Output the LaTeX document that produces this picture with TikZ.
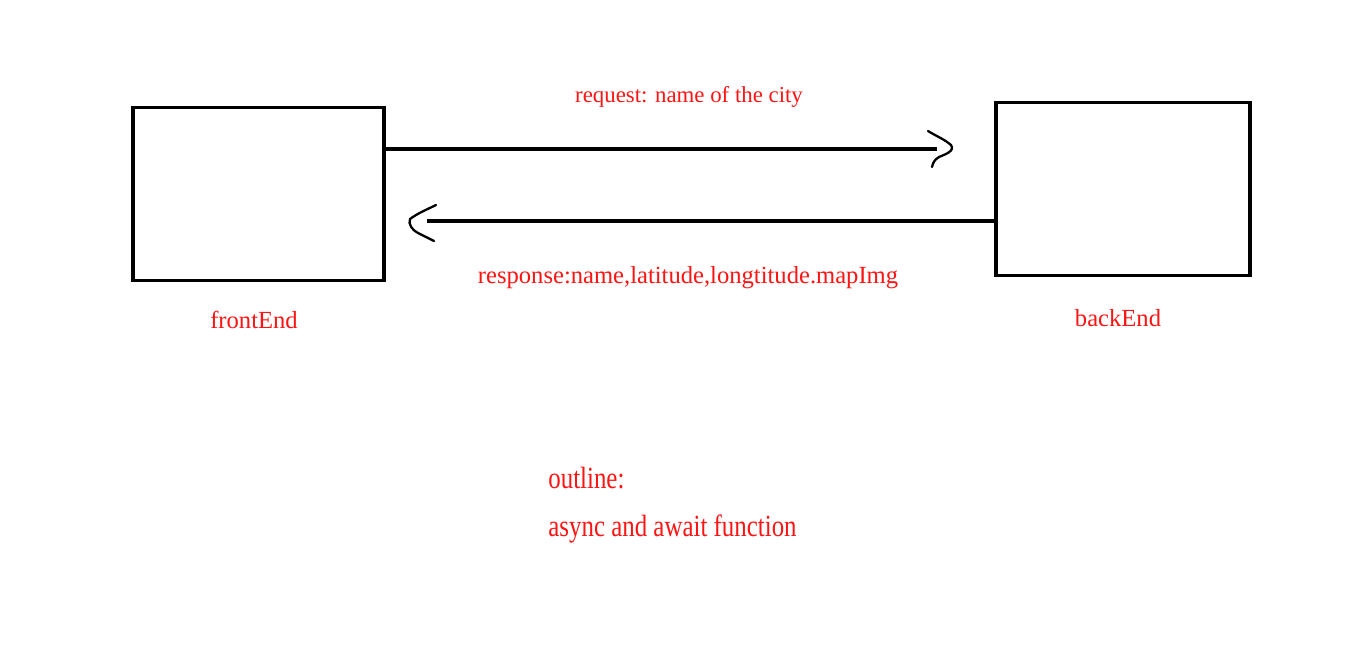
\documentclass[tikz,border=0pt]{standalone}
\usepackage{fontspec}
\setmainfont{Liberation Serif}
\newfontfamily\outlinefont[FakeStretch=0.81]{Liberation Serif}
\usetikzlibrary{positioning}
\definecolor{labelred}{RGB}{255,20,20}
\tikzset{
  tier/.style={draw=black,line width=2pt,inner sep=0pt,
    minimum width=#1,minimum height=3.46cm},
  tier/.default=5.04cm,
  shaft/.style={draw=black,line width=2.8pt},
  head/.style={draw=black,line width=1.3pt,line cap=round,line join=round},
  tag/.style={text=labelred,font=\fontsize{14pt}{16pt}\selectfont,inner sep=0pt,anchor=base},
  note/.style={text=labelred,font=\outlinefont\fontsize{17.5pt}{20pt}\selectfont,inner sep=0pt,anchor=base west},
}
\begin{document}
\begin{tikzpicture}[x=0.02cm,y=-0.02cm]
  \useasboundingbox (0,0) rectangle (1364,650);
  % the two tiers
  \node[tier=5.02cm] (fe) at (258.5,194) {};
  \node[tier=5.08cm] (be) at (1123,189) {};
  \node[tag] (felbl) at (254,328) {frontEnd};
  \node[tag] (belbl) at (1118,326) {backEnd};
  % request
  \coordinate (reqend) at (937,149);
  \draw[shaft] (fe.east |- reqend) -- (reqend);
  \draw[head] (928,131) .. controls (936,136) and (944,139) .. (951,145)
    .. controls (955,151) and (946,154) .. (939,157)
    .. controls (934,160) and (933,163) .. (932,167);
  \node[tag,font=\fontsize{13pt}{15pt}\selectfont] (reqlbl) at (689,102) {request: name of the city};
  % response
  \coordinate (resend) at (427,221);
  \draw[shaft] (be.west |- resend) -- (resend);
  \draw[head] (436,205) .. controls (428,209) and (418,213) .. (410,219)
    .. controls (408,224) and (412,230) .. (418,233)
    .. controls (424,236) and (430,239) .. (434,241);
  \node[tag] (reslbl) at (688,283) {response:name,latitude,longtitude.mapImg};
  % outline
  \node[note] (outl) at (548,488) {outline:};
  \node[note] (outf) at (548,536) {async and await function};
\end{tikzpicture}
\end{document}
